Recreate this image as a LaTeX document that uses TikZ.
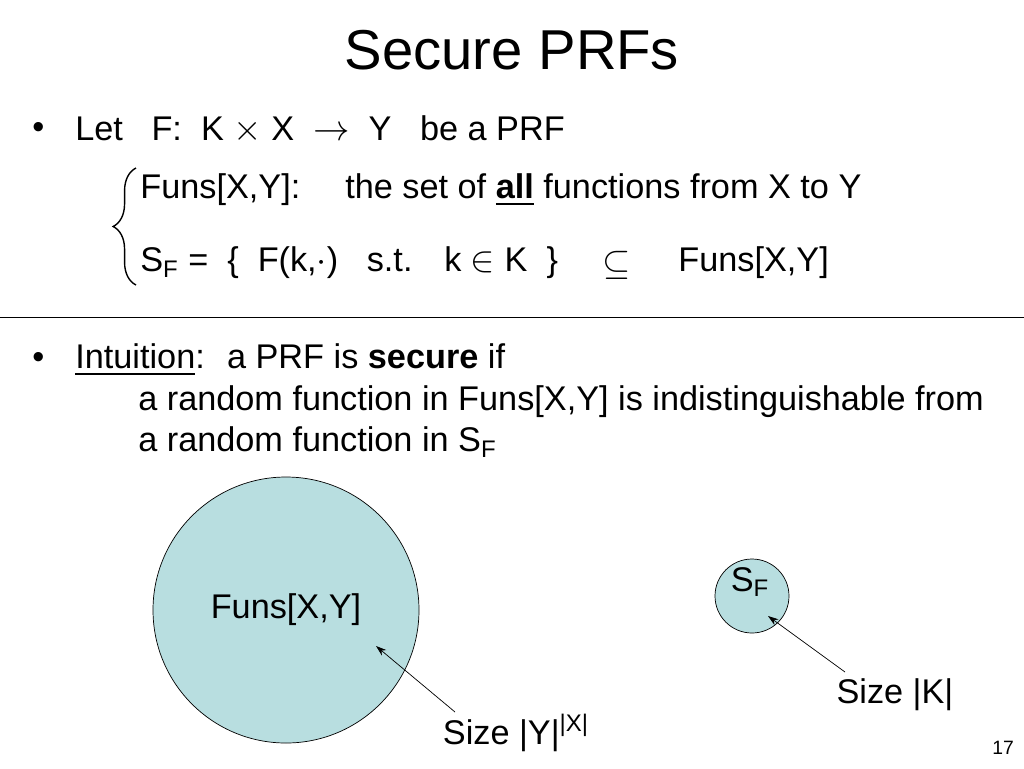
\documentclass[tikz,border=0pt]{standalone}
\usepackage{fontspec}
\setmainfont{Liberation Sans}
\usepackage{amssymb}
\usetikzlibrary{arrows.meta, positioning, decorations.pathreplacing}
\definecolor{setfill}{RGB}{184,222,224}
\begin{document}
\begin{tikzpicture}[x=0.02cm, y=-0.02cm, font=\fontsize{19.5}{23}\selectfont,
    txt/.style={anchor=west, inner sep=0pt},
    setcircle/.style={circle, draw, fill=setfill, inner sep=0pt},
    pointer/.style={-{Stealth[length=6pt, width=4pt]}, thin}]
    \useasboundingbox (0,0) rectangle (1024,768);
    % titel
    \node (title) at (512,50) {\fontsize{32}{36}\selectfont Secure PRFs};
    % eerste punt
    \node[txt] (b1) at (32,130) {•};
    \node[txt] (let) at (75,130) {Let \ \ F: \ K $\times$ X \ $\rightarrow$ \ Y \ \ be a PRF};
    \draw[decorate, decoration={brace, amplitude=13pt}, thick] (136,285) -- (136,168);
    \node[txt] (funs) at (140,190) {Funs[X,Y]:};
    \node[txt] (allf) at (345,190) {the set of \underline{\textbf{all}} functions from X to Y};
    \node[txt] (sf) at (140,263) {S\textsubscript{F} = \ \{ \ F(k,$\cdot$) \ \ s.t. \ \ k $\in$ K \ \}};
    \node (sub) at (617,265) {$\subseteq$};
    \node[txt] (funs2) at (678,263) {Funs[X,Y]};
    % scheidingslijn
    \draw (0,317) -- (1024,317);
    % tweede punt
    \node[txt] (b2) at (32,360) {•};
    \node[txt] (intu) at (75,360) {\underline{Intuition}: \ a PRF is \textbf{secure} if};
    \node[txt] (l2) at (138,402) {a random function in Funs[X,Y] is indistinguishable from};
    \node[txt] (l3) at (138,442) {a random function in S\textsubscript{F}};
    % verzamelingen
    \node[setcircle, minimum size=266*0.02cm] (big) at (286,610) {};
    \node (bigl) at (286,610) {Funs[X,Y]};
    \node[setcircle, minimum size=74*0.02cm] (small) at (752,596) {};
    \node (smalll) at (750,582) {S\textsubscript{F}};
    \node (sizey) at (516,733) {Size |Y|\textsuperscript{|X|}};
    \node (sizek) at (895,695) {Size |K|};
    \coordinate (ya) at (455,712);
    \coordinate (yb) at (376,646);
    \coordinate (ka) at (845,672);
    \coordinate (kb) at (768,616);
    \draw[pointer] (ya) -- (yb);
    \draw[pointer] (ka) -- (kb);
    \node (page) at (1003,748) {\fontsize{11}{13}\selectfont 17};
\end{tikzpicture}
\end{document}
